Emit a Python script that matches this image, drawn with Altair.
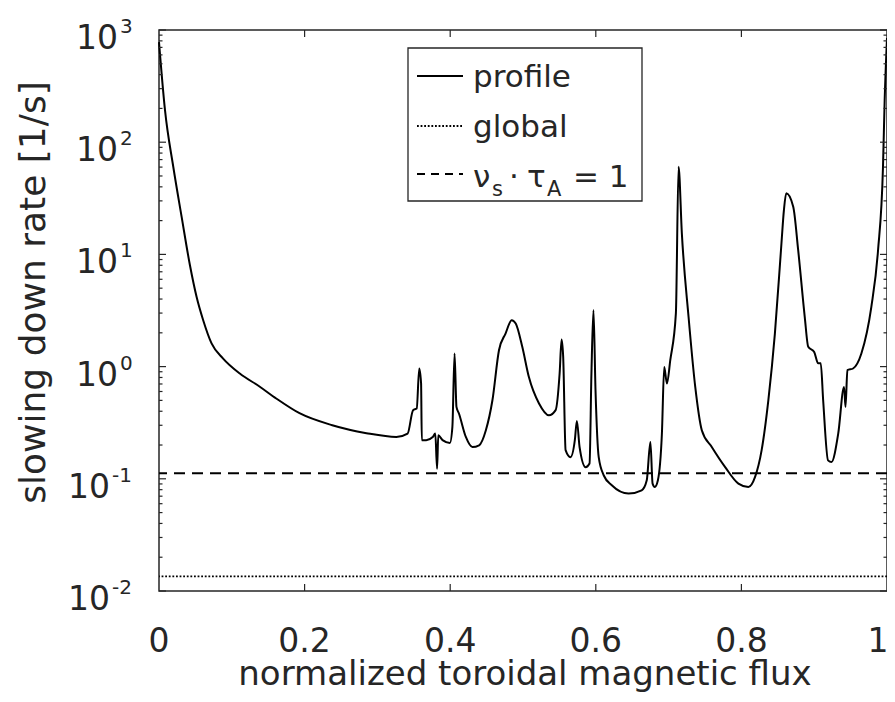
import altair as alt
import pandas as pd

# ---------------- data ----------------
flux = [0.0, 0.0082, 0.0196, 0.0311, 0.0425, 0.0516, 0.0607, 0.0722, 0.0881, 0.111,
        0.138, 0.161, 0.193, 0.238, 0.285, 0.326, 0.3415, 0.349, 0.354, 0.3575,
        0.360, 0.361, 0.367, 0.376, 0.3795, 0.382, 0.3836, 0.3895, 0.3996, 0.403,
        0.406, 0.4086, 0.412, 0.4215, 0.4305, 0.4397, 0.449, 0.458, 0.467, 0.476,
        0.4845, 0.490, 0.499, 0.508, 0.522, 0.5356, 0.5448, 0.5503, 0.553, 0.5552,
        0.5585, 0.5653, 0.5712, 0.574, 0.5777, 0.586, 0.5914, 0.594, 0.5968, 0.5996,
        0.604, 0.611, 0.622, 0.645, 0.663, 0.670, 0.675, 0.678, 0.681, 0.6853,
        0.6908, 0.694, 0.6977, 0.7023, 0.710, 0.7137, 0.7182, 0.7274, 0.7366, 0.7456,
        0.7593, 0.7777, 0.7959, 0.8096, 0.8188, 0.8278, 0.837, 0.846, 0.855, 0.8584,
        0.8616, 0.8712, 0.878, 0.887, 0.8918, 0.900, 0.9055, 0.909, 0.9123, 0.919,
        0.9237, 0.933, 0.941, 0.943, 0.9456, 0.9534, 0.9648, 0.9785, 0.9877, 0.9945,
        0.9968, 1.0]
rate = [780, 194, 60.4, 21.6, 8.0, 4.19, 2.59, 1.61, 1.18, 0.868,
        0.665, 0.52, 0.384, 0.300, 0.255, 0.236, 0.253, 0.409, 0.423, 0.962,
        0.711, 0.221, 0.221, 0.236, 0.253, 0.123, 0.244, 0.221, 0.209, 0.290,
        1.31, 0.437, 0.382, 0.236, 0.192, 0.199, 0.271, 0.501, 1.40, 1.97,
        2.59, 2.42, 1.50, 0.81, 0.469, 0.368, 0.409, 0.868, 1.74, 1.22,
        0.180, 0.156, 0.221, 0.328, 0.192, 0.127, 0.137, 0.868, 3.19, 0.616,
        0.156, 0.107, 0.0875, 0.0738, 0.0789, 0.097, 0.213, 0.0906, 0.0845, 0.097,
        0.253, 0.993, 0.706, 1.14, 2.98, 60.4, 15.4, 2.78, 0.659, 0.271,
        0.192, 0.127, 0.0906, 0.0845, 0.104, 0.180, 0.501, 1.97, 12.5, 24.8,
        35.0, 26.6, 10.9, 2.78, 1.50, 1.35, 1.07, 1.07, 0.501, 0.146,
        0.141, 0.253, 0.659, 0.437, 0.929, 0.962, 1.31, 3.41, 10.9, 60.4,
        238, 850]
global_rate = 0.0135
alfven_rate = 0.112

x_ticks = [0, 0.2, 0.4, 0.6, 0.8, 1]
x_tick_labels = ["0", "0.2", "0.4", "0.6", "0.8", "1"]
x_inner_ticks = [0.2, 0.4, 0.6, 0.8]
y_decades = [0.01, 0.1, 1, 10, 100, 1000]
y_exponents = ["-2", "-1", "0", "1", "2", "3"]
y_minor = [m * d for d in [0.01, 0.1, 1, 10, 100] for m in range(2, 10)]
legend_labels = ["profile", "global"]
x_title = "normalized toroidal magnetic flux"
y_title = "slowing down rate [1/s]"

# ---------------- styling ----------------
FONT = "DejaVu Sans"
INK = "#262626"
W, H = 728, 561

xs = alt.Scale(domain=[0, 1], nice=False, zero=False)
ys = alt.Scale(type="log", domain=[0.01, 1000], nice=False)

X = alt.X("x:Q", scale=xs, axis=None)
Y = alt.Y("y:Q", scale=ys, axis=None)

one = pd.DataFrame({"a": [0]})

profile = alt.Chart(pd.DataFrame({"x": flux, "y": rate})).mark_line(
    color="black", strokeWidth=2, interpolate="monotone").encode(x=X, y=Y)

glob = alt.Chart(pd.DataFrame({"y": [global_rate]})).mark_rule(
    color="black", strokeWidth=1.8, strokeDash=[1.8, 1.8]).encode(y=Y)
alfv = alt.Chart(pd.DataFrame({"y": [alfven_rate]})).mark_rule(
    color="black", strokeWidth=2, strokeDash=[11, 7]).encode(y=Y)

ymaj = pd.DataFrame({"y": y_decades})
ymin = pd.DataFrame({"y": y_minor})
xin = pd.DataFrame({"x": x_inner_ticks})

def yticks(df, x0, x1):
    return alt.Chart(df).mark_rule(color=INK, strokeWidth=1.2).encode(
        y=Y, x=alt.value(x0), x2=alt.value(x1))

def xticks(y0, y1):
    return alt.Chart(xin).mark_rule(color=INK, strokeWidth=1.2).encode(
        x=X, y=alt.value(y0), y2=alt.value(y1))

ticks = [yticks(ymaj, 0, 7), yticks(ymaj, W, W - 7),
         yticks(ymin, 0, 3.5), yticks(ymin, W, W - 3.5),
         xticks(H, H - 7), xticks(0, 7)]

# x tick labels
xlab = alt.Chart(pd.DataFrame({"x": x_ticks, "t": x_tick_labels}))
xlabs = [
    xlab.transform_filter("datum.x < 1").mark_text(
        align="center", baseline="alphabetic", font=FONT, fontSize=33, color=INK).encode(
        x=X, y=alt.value(H + 61), text="t:N"),
    xlab.transform_filter("datum.x >= 1").mark_text(
        align="center", baseline="alphabetic", dx=-9, font=FONT, fontSize=33, color=INK).encode(
        x=X, y=alt.value(H + 61), text="t:N"),
]

# y tick labels (10 with superscript exponent)
lab = pd.DataFrame({"y": y_decades, "e": y_exponents})
def ylabels(filt, xten):
    base = alt.Chart(lab).transform_filter(filt)
    ten = base.mark_text(text="10", align="right", baseline="alphabetic", dy=19,
                         font=FONT, fontSize=33, color=INK).encode(
        y=Y, x=alt.value(xten))
    ex = base.mark_text(align="left", baseline="alphabetic", dy=3,
                        font=FONT, fontSize=20, color=INK).encode(
        y=Y, x=alt.value(xten + 2), text="e:N")
    return [ten, ex]

ylabs = ylabels("datum.y >= 1", -41) + ylabels("datum.y < 1", -49)

ytitle = alt.Chart(one).mark_text(text=y_title, angle=270, align="center",
                                  baseline="alphabetic", font=FONT, fontSize=36,
                                  color=INK).encode(x=alt.value(-114), y=alt.value(H / 2 - 18))
xtitle = alt.Chart(one).mark_text(text=x_title, align="center", baseline="alphabetic",
                                  font=FONT, fontSize=34, color=INK).encode(
    x=alt.value(W / 2 + 2), y=alt.value(655))

# ---------------- legend ----------------
lbox = alt.Chart(one).mark_rect(fill="white", stroke=INK, strokeWidth=1.3).encode(
    x=alt.value(249), x2=alt.value(483), y=alt.value(18), y2=alt.value(171))
l1 = alt.Chart(one).mark_rule(color="black", strokeWidth=2).encode(
    x=alt.value(258), x2=alt.value(304), y=alt.value(46))
l2 = alt.Chart(one).mark_rule(color="black", strokeWidth=1.8, strokeDash=[1.8, 1.8]).encode(
    x=alt.value(258), x2=alt.value(304), y=alt.value(96))
l3 = alt.Chart(one).mark_rule(color="black", strokeWidth=2, strokeDash=[8, 6]).encode(
    x=alt.value(258), x2=alt.value(304), y=alt.value(144))

def ltext(t, x, y, size=31):
    return alt.Chart(one).mark_text(text=t, align="left", baseline="alphabetic",
                                    font=FONT, fontSize=size, color=INK).encode(
        x=alt.value(x), y=alt.value(y))

legend = [lbox, l1, l2, l3,
          ltext(legend_labels[0], 314, 57), ltext(legend_labels[1], 314, 107),
          ltext("ν", 314, 157), ltext("s", 333, 166, 21), ltext("·", 350, 157),
          ltext("τ", 368, 157), ltext("A", 388, 166, 21), ltext("= 1", 414, 157)]

chart = alt.layer(profile, glob, alfv, *ticks, *xlabs, *ylabs, ytitle, xtitle, *legend).properties(
    width=W, height=H,
    autosize=alt.AutoSizeParams(type="none"),
    padding={"left": 151, "top": 22, "right": 0, "bottom": 102},
).configure_view(stroke=INK, strokeWidth=1.5)

chart.save("out.html", embed_options={"renderer": "svg", "actions": False})
